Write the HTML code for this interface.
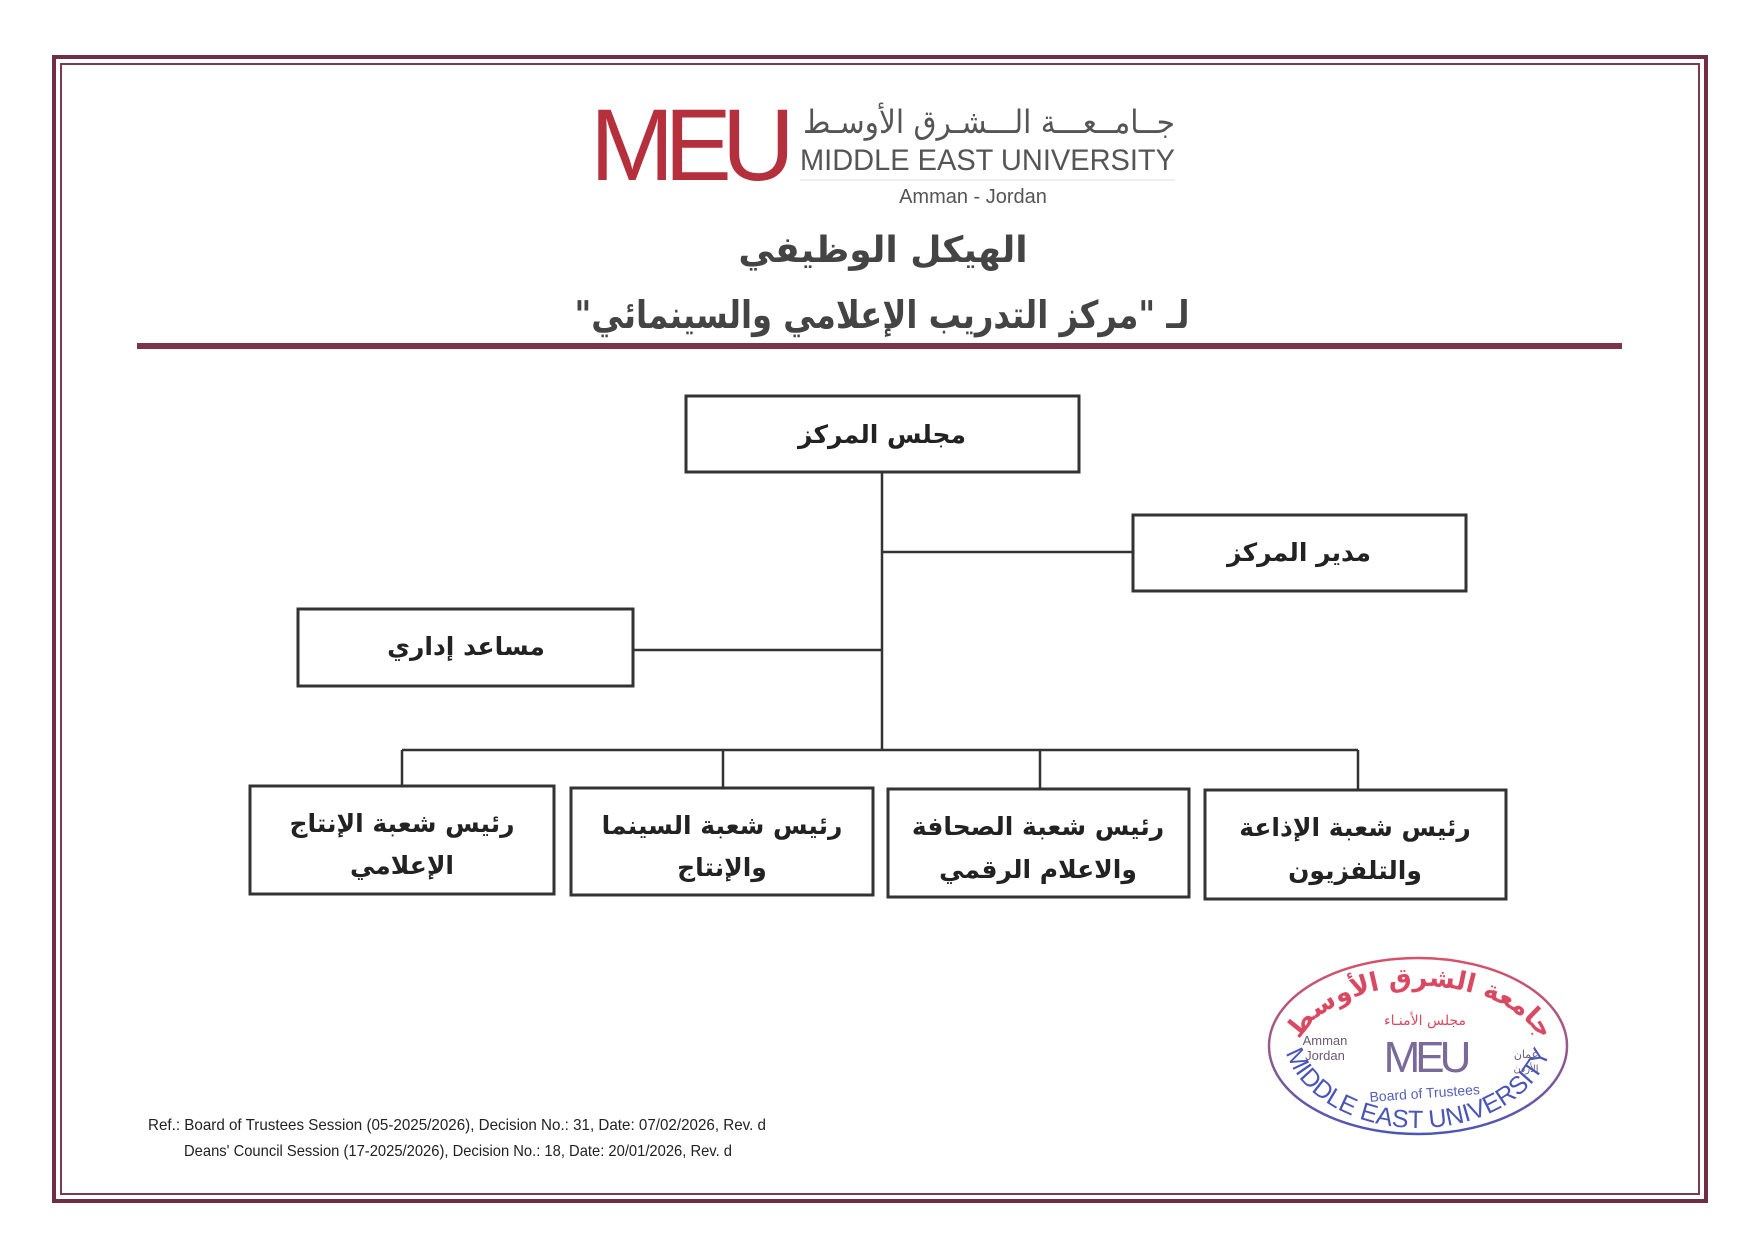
<!DOCTYPE html>
<html><head><meta charset="utf-8">
<style>
html,body{margin:0;padding:0;background:#fff;}
svg{display:block;}
</style></head>
<body>
<svg width="1753" height="1240" viewBox="0 0 1753 1240" xmlns="http://www.w3.org/2000/svg">
<defs>
<linearGradient id="sg" x1="0" y1="0" x2="0" y2="1">
<stop offset="0" stop-color="#d9506a"/><stop offset="0.5" stop-color="#9a5a8a"/><stop offset="1" stop-color="#4a55b8"/>
</linearGradient>
<path id="arcTop" d="M1300,1040 A125,75 0 0,1 1540,1040"/>
<path id="arcBot" d="M1283,1032 A135,96 0 0,0 1553,1032"/>
</defs>
<!-- frame -->
<rect x="54" y="57" width="1652" height="1144" fill="none" stroke="#6e2e43" stroke-width="4"/>
<rect x="61" y="64" width="1638" height="1130" fill="none" stroke="#7a3a50" stroke-width="2"/>
<!-- logo -->
<text x="590" y="180" font-family="Liberation Sans, sans-serif" font-size="102" fill="#b5303d" letter-spacing="-10" textLength="195" lengthAdjust="spacingAndGlyphs">MEU</text>
<text x="1175" y="133" text-anchor="end" font-family="'DejaVu Sans', sans-serif" font-size="32" fill="#555" textLength="372" lengthAdjust="spacingAndGlyphs">جــامــعـــة الـــشـرق الأوسـط</text>
<text x="800" y="170" font-family="Liberation Sans, sans-serif" font-size="30" fill="#555" textLength="375" lengthAdjust="spacingAndGlyphs">MIDDLE EAST UNIVERSITY</text>
<line x1="800" y1="180" x2="1175" y2="180" stroke="#ddd" stroke-width="1"/>
<text x="973" y="203" text-anchor="middle" font-family="Liberation Sans, sans-serif" font-size="20" fill="#555">Amman - Jordan</text>
<!-- titles -->
<text x="883" y="262" text-anchor="middle" font-family="'DejaVu Sans', sans-serif" font-weight="bold" font-size="36" fill="#444" direction="rtl">الهيكل الوظيفي</text>
<text x="882" y="328" text-anchor="middle" font-family="'DejaVu Sans', sans-serif" font-weight="bold" font-size="38" fill="#444" direction="rtl" textLength="615" lengthAdjust="spacingAndGlyphs">لـ "مركز التدريب الإعلامي والسينمائي"</text>
<rect x="137" y="343" width="1485" height="6" fill="#7a3548"/>
<!-- connectors -->
<g stroke="#333" stroke-width="2.5" fill="none">
<line x1="882" y1="472" x2="882" y2="751"/>
<line x1="882" y1="552" x2="1133" y2="552"/>
<line x1="633" y1="650" x2="882" y2="650"/>
<line x1="402" y1="750" x2="1358" y2="750"/>
<line x1="402" y1="750" x2="402" y2="786"/>
<line x1="723" y1="750" x2="723" y2="788"/>
<line x1="1040" y1="750" x2="1040" y2="789"/>
<line x1="1358" y1="750" x2="1358" y2="790"/>
</g>
<!-- boxes -->
<g stroke="#333" stroke-width="3" fill="#fff">
<rect x="686" y="396" width="393" height="76"/>
<rect x="1133" y="515" width="333" height="76"/>
<rect x="298" y="609" width="335" height="77"/>
<rect x="250" y="786" width="304" height="108"/>
<rect x="571" y="788" width="302" height="107"/>
<rect x="888" y="789" width="301" height="108"/>
<rect x="1205" y="790" width="301" height="109"/>
</g>
<g font-family="'DejaVu Sans', sans-serif" font-weight="bold" font-size="25" fill="#222" text-anchor="middle" direction="rtl">
<text x="882" y="443">مجلس المركز</text>
<text x="1299" y="561">مدير المركز</text>
<text x="466" y="655">مساعد إداري</text>
<text x="402" y="832">رئيس شعبة الإنتاج</text>
<text x="402" y="874">الإعلامي</text>
<text x="722" y="834">رئيس شعبة السينما</text>
<text x="722" y="876">والإنتاج</text>
<text x="1038" y="835">رئيس شعبة الصحافة</text>
<text x="1038" y="878">والاعلام الرقمي</text>
<text x="1355" y="836">رئيس شعبة الإذاعة</text>
<text x="1355" y="879">والتلفزيون</text>
</g>
<!-- ref -->
<g font-family="'Liberation Sans Narrow','Liberation Sans',sans-serif" font-size="16" fill="#222">
<text x="148" y="1130" textLength="618" lengthAdjust="spacingAndGlyphs">Ref.: Board of Trustees Session (05-2025/2026), Decision No.: 31, Date: 07/02/2026, Rev. d</text>
<text x="184" y="1156" textLength="548" lengthAdjust="spacingAndGlyphs">Deans' Council Session (17-2025/2026), Decision No.: 18, Date: 20/01/2026, Rev. d</text>
</g>
<!-- stamp -->
<ellipse cx="1418" cy="1046" rx="149" ry="88" fill="none" stroke="url(#sg)" stroke-width="2.5"/>
<text font-family="'DejaVu Sans',sans-serif" font-weight="bold" font-size="26" fill="#d94a62" direction="rtl"><textPath href="#arcTop" startOffset="50%" text-anchor="middle">جامعة الشرق الأوسط</textPath></text>
<text x="1425" y="1025" text-anchor="middle" font-family="'DejaVu Sans',sans-serif" font-size="14" fill="#d94a62" direction="rtl">مجلس الأمنـاء</text>
<text x="1325" y="1045" text-anchor="middle" font-family="Liberation Sans,sans-serif" font-size="13" fill="#6a5a7a">Amman</text>
<text x="1325" y="1060" text-anchor="middle" font-family="Liberation Sans,sans-serif" font-size="13" fill="#6a5a7a">Jordan</text>
<text x="1425" y="1072" text-anchor="middle" font-family="Liberation Sans,sans-serif" font-size="44" fill="#7a6a9a" letter-spacing="-5">MEU</text>
<text x="1526" y="1058" text-anchor="middle" font-family="'DejaVu Sans',sans-serif" font-size="11" fill="#6a5a7a">عمان</text>
<text x="1526" y="1072" text-anchor="middle" font-family="'DejaVu Sans',sans-serif" font-size="10" fill="#6a5a7a">الأردن</text>
<text x="1425" y="1098" text-anchor="middle" font-family="Liberation Sans,sans-serif" font-size="14" fill="#5560b5" transform="rotate(-4 1425 1098)">Board of Trustees</text>
<text font-family="Liberation Sans,sans-serif" font-size="25" fill="#4a55b8"><textPath href="#arcBot" startOffset="50%" text-anchor="middle">MIDDLE EAST UNIVERSITY</textPath></text>
</svg>
</body></html>
